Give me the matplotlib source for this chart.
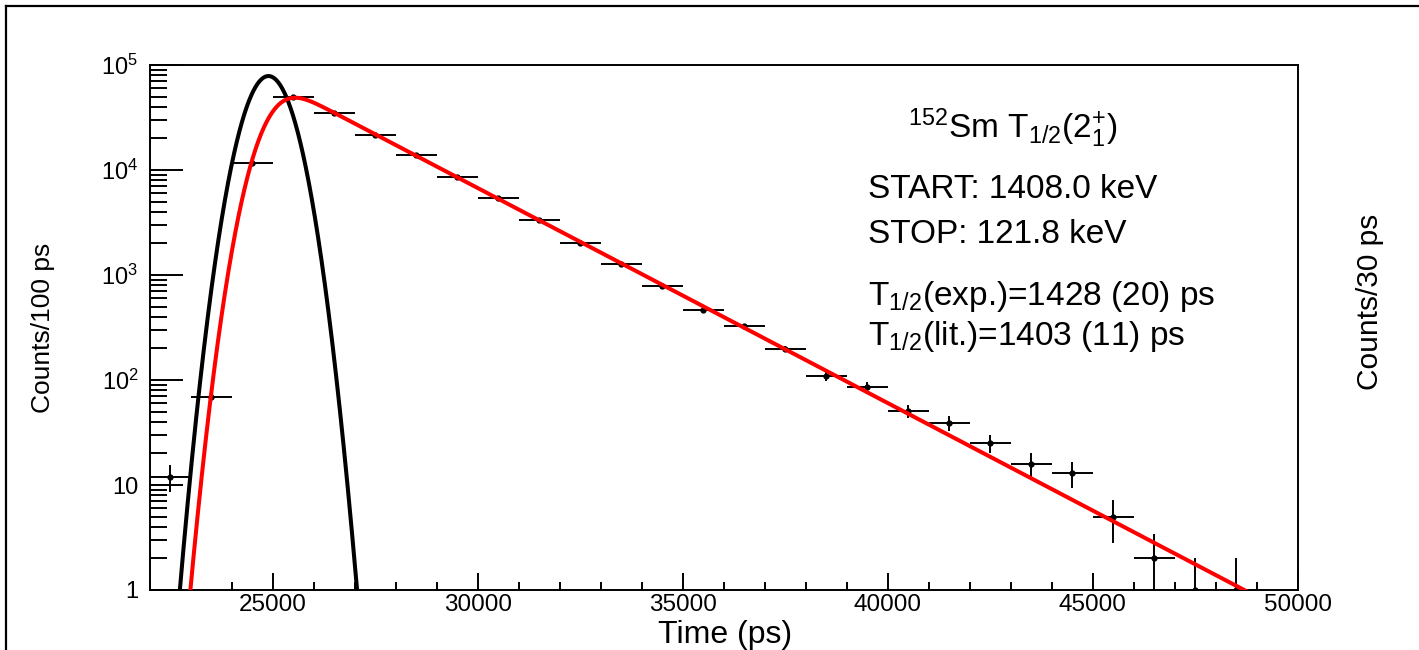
import math
import numpy as np
import matplotlib
matplotlib.use('Agg')
import matplotlib.pyplot as plt
from matplotlib.lines import Line2D
from matplotlib.ticker import FixedLocator, MultipleLocator, LogLocator, NullFormatter

plt.rcParams['font.family'] = ['Liberation Sans', 'DejaVu Sans']
plt.rcParams['mathtext.fontset'] = 'custom'
plt.rcParams['mathtext.rm'] = 'Liberation Sans'
plt.rcParams['mathtext.it'] = 'Liberation Sans:italic'
plt.rcParams['mathtext.bf'] = 'Liberation Sans:bold'
plt.rcParams['mathtext.sf'] = 'Liberation Sans'

# histogram (1000 ps bins)
bin_centres = [22500, 23500, 24500, 25500, 26500, 27500, 28500, 29500, 30500,
               31500, 32500, 33500, 34500, 35500, 36500, 37500, 38500, 39500,
               40500, 41500, 42500, 43500, 44500, 45500, 46500, 47500, 48500]
counts = [12, 69, 11700, 49200, 34700, 21500, 13900, 8580, 5410,
          3340, 2020, 1273, 785, 464, 327, 197, 109, 86,
          51, 39, 25, 16, 13, 5, 2, 1, 1]
count_err = [3.5, 8.3, 108, 222, 186, 147, 118, 93, 74,
             58, 45, 36, 28, 21.5, 18, 14, 10.4, 9.3,
             7.1, 6.2, 5, 4, 3.6, 2.2, 1.4, 1, 1]
bin_half = 500

# fit curves: prompt response (black) and prompt (x) exponential decay (red)
prompt_amp = 78500
prompt_mu = 24900
prompt_sigma = 455
decay_amp = 73000
decay_tau = 2120

y_ticks = [1, 10, 100, 1e3, 1e4, 1e5]
y_ticklabels = ['1', '10', r'$10^{2}$', r'$10^{3}$', r'$10^{4}$', r'$10^{5}$']
x_ticks = [25000, 30000, 35000, 40000, 45000, 50000]

erfc = np.vectorize(math.erfc)


def prompt_curve(t):
    return prompt_amp * np.exp(-0.5 * ((t - prompt_mu) / prompt_sigma) ** 2)


def decay_curve(t):
    lam = 1.0 / decay_tau
    z = (prompt_sigma * lam - (t - prompt_mu) / prompt_sigma) / math.sqrt(2)
    return decay_amp * np.exp(lam * (prompt_mu - t) + 0.5 * (lam * prompt_sigma) ** 2) * 0.5 * erfc(z)


fig = plt.figure(figsize=(14.19, 6.5), dpi=100)
ax = fig.add_axes([149.5 / 1419, 1 - 590 / 650, (1298 - 149.5) / 1419, (590 - 65) / 650])
ax.set_yscale('log')

ax.errorbar(bin_centres, counts, xerr=bin_half, yerr=count_err, fmt='o',
            color='black', ms=3.5, elinewidth=1.4, capsize=0, zorder=2)

t = np.linspace(22000, 50000, 3000)
ax.plot(t, prompt_curve(t), color='black', lw=2.9, zorder=3)
ax.plot(t, decay_curve(t), color='red', lw=2.9, zorder=4)

ax.set_xlim(22000, 50000)
ax.set_ylim(1, 1e5)

ax.xaxis.set_major_locator(FixedLocator(x_ticks))
ax.xaxis.set_minor_locator(MultipleLocator(1000))
ax.yaxis.set_major_locator(FixedLocator(y_ticks))
ax.set_yticklabels(y_ticklabels)
ax.yaxis.set_minor_locator(LogLocator(base=10, subs=np.arange(2, 10)))
ax.yaxis.set_minor_formatter(NullFormatter())

ax.tick_params(axis='x', which='major', direction='in', length=12, width=1.4, labelsize=17.5, pad=3)
ax.tick_params(axis='x', which='minor', direction='in', length=6, width=1.4)
ax.tick_params(axis='y', which='major', direction='in', length=24, width=1.4, labelsize=17, pad=8)
ax.tick_params(axis='y', which='minor', direction='in', length=12, width=1.4)
for s in ax.spines.values():
    s.set_linewidth(1.4)

# axis titles
fig.text(725 / 1419, 1 - 643 / 650, 'Time (ps)', fontsize=23, ha='center', va='baseline')
fig.text(43 / 1419, 1 - 328 / 650, 'Counts/100 ps', fontsize=19, rotation=90, ha='center', va='center')
fig.text(1370 / 1419, 1 - 302 / 650, 'Counts/30 ps', fontsize=21.5, rotation=90, ha='center', va='center')

# annotation
fig.text(908 / 1419, 1 - 138 / 650, r'$^{152}$Sm T$_{1/2}$($2^{+}_{1}$)', fontsize=24, va='baseline')
fig.text(868 / 1419, 1 - 198 / 650, 'START: 1408.0 keV', fontsize=24, va='baseline')
fig.text(868 / 1419, 1 - 243 / 650, 'STOP: 121.8 keV', fontsize=24, va='baseline')
fig.text(868 / 1419, 1 - 305 / 650, r'T$_{1/2}$(exp.)=1428 (20) ps', fontsize=24, va='baseline')
fig.text(868 / 1419, 1 - 345 / 650, r'T$_{1/2}$(lit.)=1403 (11) ps', fontsize=24, va='baseline')

# outer frame (top and left edges)
fig.add_artist(Line2D([6 / 1419, 1], [1 - 6 / 650, 1 - 6 / 650], transform=fig.transFigure, color='black', lw=1.6))
fig.add_artist(Line2D([6 / 1419, 6 / 1419], [0, 1 - 6 / 650], transform=fig.transFigure, color='black', lw=1.6))

fig.savefig('out.png', dpi=100)
